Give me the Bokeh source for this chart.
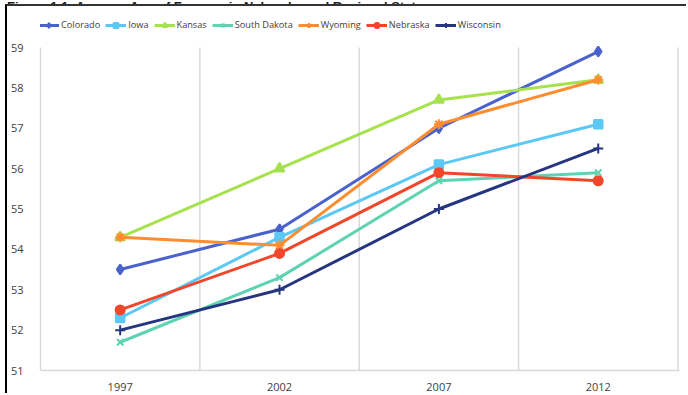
from bokeh.plotting import figure
from bokeh.models import FixedTicker, Legend, LegendItem, Div
from bokeh.layouts import column
from bokeh.embed import file_html
from bokeh.resources import INLINE

years = [1997, 2002, 2007, 2012]
states = ["Colorado", "Iowa", "Kansas", "South Dakota", "Wyoming", "Nebraska", "Wisconsin"]
colorado = [53.5, 54.5, 57.0, 58.9]
iowa = [52.3, 54.3, 56.1, 57.1]
kansas = [54.3, 56.0, 57.7, 58.2]
south_dakota = [51.7, 53.3, 55.7, 55.9]
wyoming = [54.3, 54.1, 57.1, 58.2]
nebraska = [52.5, 53.9, 55.9, 55.7]
wisconsin = [52.0, 53.0, 55.0, 56.5]
y_ticks = [51, 52, 53, 54, 55, 56, 57, 58, 59]
title_text = "Figure 1.1: Average Age of Farmers in Nebraska and Regional States"

series = [colorado, iowa, kansas, south_dakota, wyoming, nebraska, wisconsin]
colors = ["#4A62CC", "#5BC8F5", "#A6E24E", "#5ED3B2", "#FF8C2E", "#F2462B", "#263580"]
markers = ["diamond", "square", "triangle", "x", "asterisk", "circle", "cross"]
msizes = [10, 8.5, 10, 9, 10, 9, 10]

FONT = "Open Sans"
TXT = "#404040"
YMIN, YMAX = y_ticks[0], y_ticks[-1]

half = (years[1] - years[0]) / 2
bounds = [y + half for y in years]

W, H = 681, 389
p = figure(width=W, height=H, output_backend="svg", toolbar_location=None,
           x_range=(years[0] - half, years[-1] + half + 0.05),
           y_range=(YMIN, YMAX + 41 / 323 * (YMAX - YMIN)),
           min_border_left=32, min_border_right=9, min_border_top=0, min_border_bottom=25,
           styles={"margin-left": "5px", "border-left": "2px solid #000000",
                   "border-top": "2px solid #333333"})
p.xgrid.visible = False
p.ygrid.visible = False
p.outline_line_color = None

p.segment(x0=bounds, y0=[YMIN] * len(bounds), x1=bounds, y1=[YMAX] * len(bounds),
          line_color="#D9D9D9", line_width=1.5)

p.xaxis.ticker = FixedTicker(ticks=years)
p.yaxis.ticker = FixedTicker(ticks=y_ticks)
p.yaxis.bounds = (YMIN, YMAX)
for ax in (p.xaxis[0], p.yaxis[0]):
    ax.axis_line_color = "#D9D9D9"
    ax.axis_line_width = 1.5
    ax.major_tick_line_color = None
    ax.minor_tick_line_color = None
    ax.major_label_text_font = FONT
    ax.major_label_text_font_size = "11px"
    ax.major_label_text_color = TXT
p.yaxis.major_label_standoff = 11
p.xaxis.major_label_standoff = 6

items = []
for name, vals, c, m, s in zip(states, series, colors, markers, msizes):
    r1 = p.line(years, vals, line_color=c, line_width=3)
    r2 = p.scatter(years, vals, marker=m, size=s, fill_color=c, line_color=c, line_width=2)
    items.append(LegendItem(label=name, renderers=[r1, r2]))

leg = Legend(items=items, orientation="horizontal", location=(-2, 339),
             label_text_font=FONT, label_text_font_size="9.2px", label_text_color=TXT,
             glyph_width=21, glyph_height=12, label_standoff=2, spacing=5,
             padding=0, margin=0, border_line_color=None, background_fill_alpha=0,
             label_height=12)
p.add_layout(leg)

title = Div(text=f'<div style="margin-top:-11px;white-space:nowrap;padding-left:7px">{title_text}</div>',
            width=688, height=4,
            styles={"overflow": "hidden", "height": "4px", "max-height": "4px",
                    "min-height": "4px", "font-family": "Liberation Sans",
                    "font-weight": "bold", "font-size": "13px", "color": "#222222",
                    "line-height": "13px", "padding": "0", "margin": "0"})

layout = column(title, p, spacing=0)
open("out.html", "w").write(file_html(layout, INLINE))
